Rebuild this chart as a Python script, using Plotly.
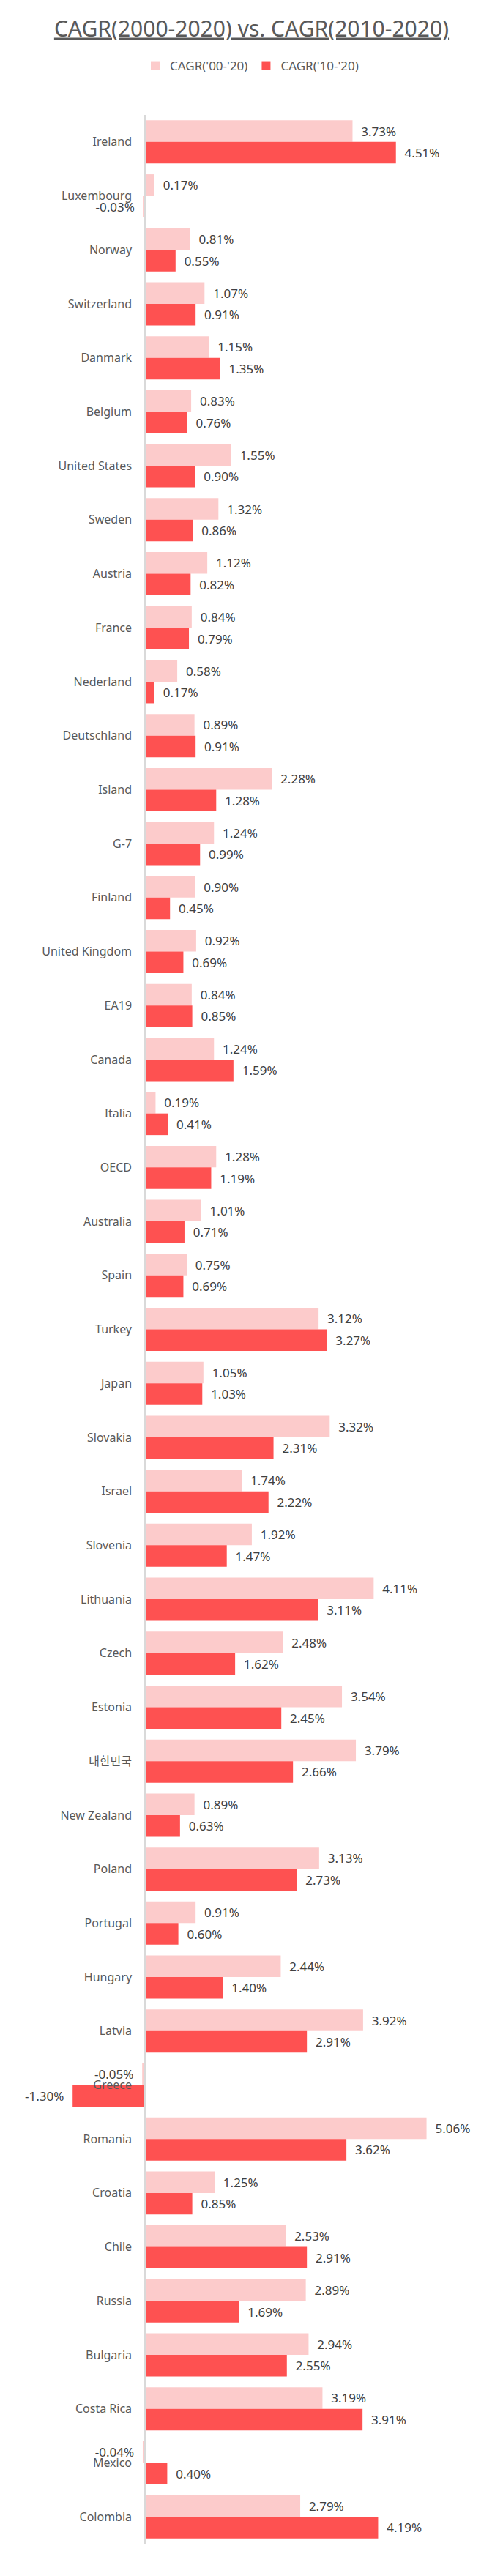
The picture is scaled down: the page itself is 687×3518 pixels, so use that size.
import plotly.graph_objects as go

countries = ["Ireland", "Luxembourg", "Norway", "Switzerland", "Danmark", "Belgium",
             "United States", "Sweden", "Austria", "France", "Nederland", "Deutschland",
             "Island", "G-7", "Finland", "United Kingdom", "EA19", "Canada", "Italia",
             "OECD", "Australia", "Spain", "Turkey", "Japan", "Slovakia", "Israel",
             "Slovenia", "Lithuania", "Czech", "Estonia", "대한민국", "New Zealand",
             "Poland", "Portugal", "Hungary", "Latvia", "Greece", "Romania", "Croatia",
             "Chile", "Russia", "Bulgaria", "Costa Rica", "Mexico", "Colombia"]

cagr_00_20 = [3.73, 0.17, 0.81, 1.07, 1.15, 0.83, 1.55, 1.32, 1.12, 0.84, 0.58, 0.89,
              2.28, 1.24, 0.90, 0.92, 0.84, 1.24, 0.19, 1.28, 1.01, 0.75, 3.12, 1.05,
              3.32, 1.74, 1.92, 4.11, 2.48, 3.54, 3.79, 0.89, 3.13, 0.91, 2.44, 3.92,
              -0.05, 5.06, 1.25, 2.53, 2.89, 2.94, 3.19, -0.04, 2.79]

cagr_10_20 = [4.51, -0.03, 0.55, 0.91, 1.35, 0.76, 0.90, 0.86, 0.82, 0.79, 0.17, 0.91,
              1.28, 0.99, 0.45, 0.69, 0.85, 1.59, 0.41, 1.19, 0.71, 0.69, 3.27, 1.03,
              2.31, 2.22, 1.47, 3.11, 1.62, 2.45, 2.66, 0.63, 2.73, 0.60, 1.40, 2.91,
              -1.30, 3.62, 0.85, 2.91, 1.69, 2.55, 3.91, 0.40, 4.19]

series_names = ["CAGR('00-'20)", "CAGR('10-'20)"]
colors = ["#FCCBCB", "#FE5151"]

X_MIN, X_MAX = -2.0, 6.0
FONT = "Noto Sans, Noto Sans CJK KR, sans-serif"
NB = "\u00a0\u00a0"


def labels(vals):
    out = []
    for v in vals:
        s = f"{v:.2f}%"
        out.append(s + NB if v < 0 else NB + s)
    return out


fig = go.Figure()
for name, vals, col in zip(series_names, [cagr_00_20, cagr_10_20], colors):
    fig.add_trace(go.Bar(
        y=countries, x=vals, orientation="h", name=name,
        marker=dict(color=col, line=dict(width=0)),
        text=labels(vals), textposition="outside", cliponaxis=False,
        constraintext="none",
        textfont=dict(family=FONT, size=17, color="#404040"),
        hoverinfo="skip",
    ))

fig.update_layout(
    width=687, height=3518,
    margin=dict(l=46, r=33, t=157, b=44),
    paper_bgcolor="white", plot_bgcolor="white",
    barmode="group", bargap=0.2, bargroupgap=0,
    title=dict(
        text="<u>CAGR(2000-2020) vs. CAGR(2010-2020)</u>",
        x=0.5, xanchor="center", xref="container",
        y=1 - 39 / 3518, yanchor="middle", yref="container",
        font=dict(family=FONT, size=30, color="#595959"),
    ),
    legend=dict(
        orientation="h", x=0.5, xanchor="center", xref="container",
        y=1 - 90 / 3518, yanchor="middle", yref="container",
        font=dict(family=FONT, size=17, color="#595959"),
        itemwidth=30, traceorder="normal",
    ),
    xaxis=dict(range=[X_MIN, X_MAX], visible=False, showgrid=False, zeroline=False),
    yaxis=dict(
        autorange="reversed", anchor="free",
        position=(0 - X_MIN) / (X_MAX - X_MIN),
        showline=True, linecolor="#D9D9D9", linewidth=1.5,
        showgrid=False, zeroline=False, ticks="",
        ticklabelstandoff=14,
        tickfont=dict(family=FONT, size=16, color="#595959"),
    ),
    showlegend=True,
)

fig.write_html("out.html")
